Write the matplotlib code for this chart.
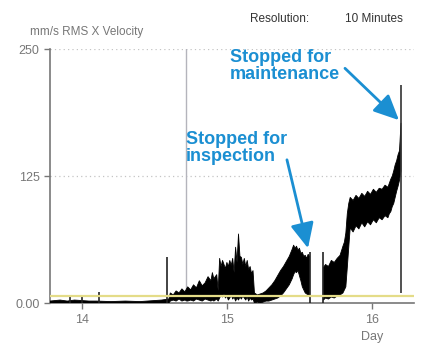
import numpy as np
import matplotlib.pyplot as plt

plt.rcParams['font.family'] = ['Liberation Sans', 'DejaVu Sans']

# velocity band (day, lower edge, upper edge), mm/s
day = [13.78, 13.85, 13.90, 13.95, 14.05, 14.10, 14.20, 14.30, 14.40, 14.45, 14.50, 14.55, 14.60,
       14.61, 14.63, 14.65, 14.67, 14.69, 14.71, 14.73, 14.75, 14.77, 14.79, 14.81, 14.83,
       14.85, 14.87, 14.89, 14.90, 14.91, 14.93, 14.94, 14.95, 14.96, 14.97, 14.98, 14.99,
       15.00, 15.01, 15.02, 15.03, 15.04, 15.05, 15.06, 15.07, 15.08, 15.09, 15.10, 15.11,
       15.12, 15.13, 15.14, 15.15, 15.16, 15.17, 15.18, 15.19, 15.21, 15.23, 15.25, 15.27,
       15.29, 15.31, 15.33, 15.35, 15.37, 15.39, 15.41, 15.43, 15.45, 15.46, 15.47, 15.48,
       15.49, 15.50, 15.51, 15.52, 15.53, 15.54, 15.55, 15.56, 15.57,
       15.575, 15.66,
       15.665, 15.68, 15.70, 15.72, 15.74, 15.76, 15.78, 15.80, 15.81, 15.82, 15.83, 15.84,
       15.85, 15.87, 15.89, 15.91, 15.93, 15.95, 15.97, 15.99, 16.01, 16.03, 16.05, 16.07,
       16.09, 16.11, 16.12, 16.13, 16.14, 16.15, 16.16, 16.17, 16.18, 16.19, 16.20]
low = [0, 0, 0, 0, 0, 0, 0, 0, 0, 0, 0, 0, 0,
       2, 3, 2, 4, 2, 3, 2, 3, 2, 4, 3, 2,
       4, 3, 2, 3, 2, 4, 2, 5, 8, 6, 9, 5,
       7, 3, 5, 8, 4, 6, 2, 5, 3, 6, 4, 7,
       5, 3, 6, 2, 5, 3, 4, 0, 1, 0, 1, 2,
       2, 3, 4, 5, 7, 10, 14, 18, 24, 28, 31, 30,
       32, 27, 22, 16, 13, 10, 9, 8, 8,
       np.nan, np.nan,
       3, 5, 4, 6, 5, 7, 8, 10, 13, 16, 35, 55,
       74, 70, 76, 73, 79, 75, 80, 77, 82, 79, 84, 82,
       86, 84, 88, 90, 95, 98, 104, 110, 115, 121, 130]
high = [2, 3, 2, 3, 2, 2, 1.5, 2, 1.5, 2, 2.5, 3, 4,
        10, 8, 12, 10, 14, 11, 16, 13, 18, 15, 22, 17,
        20, 26, 22, 30, 24, 28, 12, 44, 36, 42, 38, 34,
        40, 36, 42, 37, 44, 30, 55, 40, 68, 46, 45, 38,
        44, 36, 42, 33, 36, 29, 32, 10, 8, 9, 10, 12,
        15, 18, 22, 27, 32, 36, 41, 46, 53, 57, 54, 56,
        52, 54, 49, 50, 46, 47, 44, 48, 46,
        np.nan, np.nan,
        35, 38, 36, 42, 40, 44, 47, 56, 60, 69, 88, 98,
        104, 101, 106, 103, 108, 105, 110, 107, 112, 109, 113, 112,
        116, 114, 118, 122, 125, 130, 136, 140, 146, 150, 177]

# isolated spikes (day, top value)
spike_day = [13.92, 14.00, 14.12, 14.59, 15.57, 15.66]
spike_top = [6, 6, 11, 45, 50, 50]

stop_day = 16.20
stop_range = [10, 215]
marker_day = 14.72
alarm_level = 7

blue = '#1b8fd2'
grey = '#777777'

fig = plt.figure(figsize=(4.34, 3.5), dpi=100)
ax = fig.add_axes([0.115, 0.134, 0.839, 0.726])

ax.axvline(marker_day, color='#b4b4bc', lw=1.0, zorder=1)
ax.fill_between(day, low, high, color='black', lw=0.6, edgecolor='black', zorder=3)
ax.vlines(spike_day, 0, spike_top, color='#222222', lw=1.2, zorder=3)
ax.vlines(stop_day, stop_range[0], stop_range[1], color='#333333', lw=1.2, zorder=3)
ax.axhline(alarm_level, color='#e4dc88', lw=1.6, zorder=4)

for y in [125, 250]:
    ax.axhline(y, color='#c4c4c4', lw=0.9, ls=(0, (1, 2.5)), zorder=0)

ax.set_xlim(13.78, 16.29)
ax.set_ylim(0, 250)
ax.set_yticks([0, 125, 250])
ax.set_yticklabels(['0.00', '125', '250'])
ax.set_xticks([14, 15, 16])
ax.set_xticklabels(['14', '15', '16'])
ax.tick_params(colors=grey, labelsize=9, length=4, width=1)
for s in ['top', 'right']:
    ax.spines[s].set_visible(False)
for s in ['left', 'bottom']:
    ax.spines[s].set_color(grey)
    ax.spines[s].set_linewidth(1.2)

ax.text(16.0, -0.11, 'Day', transform=ax.get_xaxis_transform(), ha='center', va='top',
        color=grey, fontsize=9)

fig.text(30 / 434, 1 - 35 / 350, 'mm/s RMS X Velocity', color=grey, fontsize=8.5)
fig.text(250 / 434, 1 - 22 / 350, 'Resolution:', color='#333333', fontsize=8.5)
fig.text(345 / 434, 1 - 22 / 350, '10 Minutes', color='#333333', fontsize=8.5)

arrow = dict(arrowstyle='-|>,head_length=0.9,head_width=0.42', color=blue, lw=2.0,
             mutation_scale=17, shrinkA=0, shrinkB=0)
ax.text(15.02, 250, 'Stopped for\nmaintenance', color=blue, fontsize=13, fontweight='bold',
        va='top', ha='left', linespacing=1.0)
ax.annotate('', xy=(16.186, 180), xytext=(15.814, 231), arrowprops=arrow)
ax.text(14.717, 169, 'Stopped for\ninspection', color=blue, fontsize=13, fontweight='bold',
        va='top', ha='left', linespacing=1.0)
ax.annotate('', xy=(15.559, 54), xytext=(15.414, 141), arrowprops=arrow)

plt.savefig('out.png', dpi=100)
